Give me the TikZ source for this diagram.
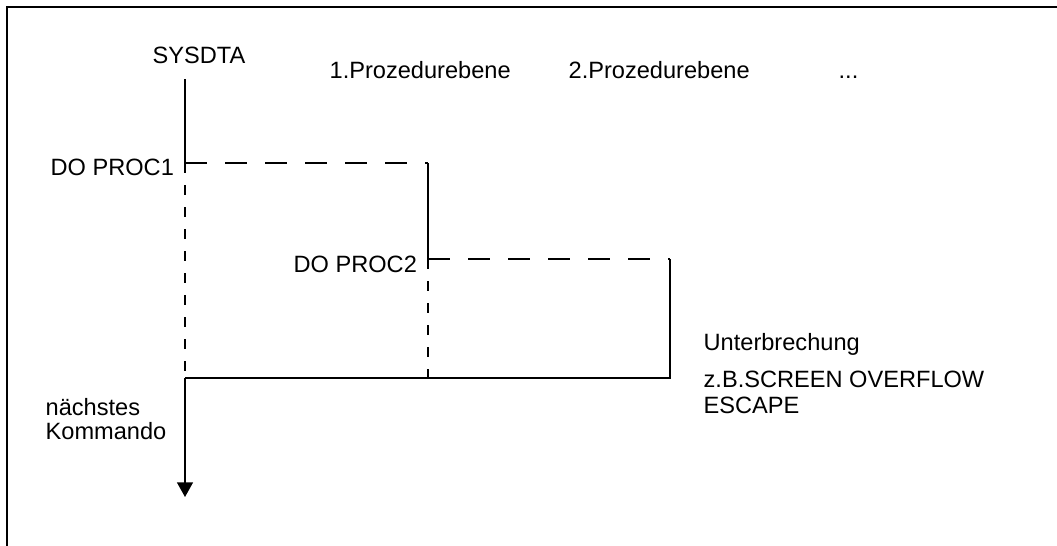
\documentclass[tikz,border=0pt]{standalone}
\usepackage{fontspec}
\setmainfont{Liberation Sans}
\usetikzlibrary{arrows.meta}

\tikzset{
    lbl/.style={inner sep=0pt, anchor=base west, font=\fontsize{17.7}{18}\selectfont},
    hdash/.style={dash pattern=on 16.5pt off 13.5pt},
    vdash/.style={dash pattern=on 7.5pt off 9pt},
}

\begin{document}
\begin{tikzpicture}[x=0.75pt, y=-0.75pt, line width=1pt]
                \useasboundingbox (0,0) rectangle (1057,546);
                \draw (1060,7) -- (7,7) -- (7,550);

                \node[lbl] (sysdta) at (152,63) {SYSDTA};
                \node[lbl] (ebene1) at (329,78) {1.Prozedurebene};
                \node[lbl] (ebene2) at (568,78) {2.Prozedurebene};
                \node[lbl] (dots) at (838,78) {...};
                \node[lbl] (proc1) at (50,175) {DO PROC1};
                \node[lbl] (proc2) at (293,272) {DO PROC2};
                \node[lbl] (unterbr) at (703,350) {Unterbrechung};
                \node[lbl] (zb) at (703,387) {z.B.SCREEN OVERFLOW};
                \node[lbl] (escape) at (703,413) {ESCAPE};
                \node[lbl, anchor=north west, align=left] (naechst) at (45,398) {nächstes\\Kommando};

                \coordinate (s0) at (185,79);
                \coordinate (p1) at (185,163);
                \coordinate (p1r) at (428,163);
                \coordinate (p2) at (428,259);
                \coordinate (p2r) at (670,259);
                \coordinate (ret) at (670,378);
                \coordinate (r2) at (428,378);
                \coordinate (r1) at (185,378);
                \coordinate (ende) at (185,497);

                \draw (s0) -- (p1);
                \draw[hdash] (p1) -- (p1r);
                \draw (p1r) -- (p2);
                \draw[hdash] (p2) -- (p2r);
                \draw (p2r) -- (ret) -- (r1);

                \draw[vdash] (p1) -- (r1);
                \draw[vdash] (p2) -- (r2);

                \draw[-{Triangle[width=12pt,length=11pt]}] (r1) -- (ende);
            \end{tikzpicture}
\end{document}
